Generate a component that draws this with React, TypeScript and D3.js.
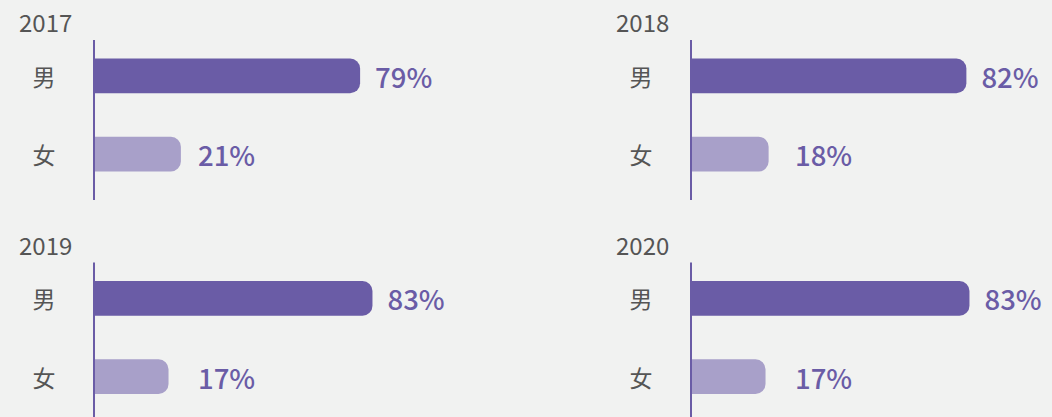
import React from 'react'
import * as d3 from 'd3'

// Gender split per year (%)
const years = ['2017', '2018', '2019', '2020']
const categories = ['男', '女']
const maleShare = [79, 82, 83, 83]
const femaleShare = [21, 18, 17, 17]

const width = 1052
const height = 417
const colStep = 597
const rowStep = 222.5
const axisX = 94
const font = '"Noto Sans CJK SC", "Noto Sans", sans-serif'
const dark = '#6a5ca6'
const light = '#a8a0c9'
const textGray = '#555555'

const x = d3.scaleLinear().domain([0, 100]).range([22, 331])
const y = d3.scaleBand<string>()
    .domain(categories)
    .range([35, 195])
    .paddingInner(0.557)
    .paddingOuter(0.3)
const color = d3.scaleOrdinal<string, string>().domain(categories).range([dark, light])

// bar with the right-hand corners rounded
const barPath = (x0: number, y0: number, w: number, h: number, r: number) => {
    const p = d3.path()
    p.moveTo(x0, y0)
    p.lineTo(x0 + w - r, y0)
    p.arcTo(x0 + w, y0, x0 + w, y0 + r, r)
    p.lineTo(x0 + w, y0 + h - r)
    p.arcTo(x0 + w, y0 + h, x0 + w - r, y0 + h, r)
    p.lineTo(x0, y0 + h)
    p.closePath()
    return p.toString()
}

const Panel: React.FC<{ year: string; values: number[]; tx: number; ty: number }> = ({ year, values, tx, ty }) => {
    const bw = y.bandwidth()
    return (
        <g transform={`translate(${tx},${ty})`}>
            <text x={19} y={32} fontSize={24} fill={textGray} fontFamily={font}>{year}</text>
            {categories.map((c, i) => {
                const yc = (y(c) ?? 0)
                const len = x(values[i])
                const labelX = axisX + Math.max(len + 15, 104)
                return (
                    <g key={c}>
                        <text x={44} y={yc + bw / 2} textAnchor="middle" dominantBaseline="central"
                            fontSize={23} fill={textGray} fontFamily={font}>{c}</text>
                        <path d={barPath(axisX, yc, len, bw, 10)} fill={color(c)} />
                        <text x={labelX} y={yc + bw / 2} dominantBaseline="central"
                            fontSize={27.5} fontWeight={500} fill={dark} fontFamily={font}>{values[i]}%</text>
                    </g>
                )
            })}
            <line x1={axisX} x2={axisX} y1={40} y2={200} stroke={dark} strokeWidth={2} />
        </g>
    )
}

export default function App() {
    return (
        <>
            <style>{`body{margin:0;background:#f1f2f1}`}</style>
            <svg width={width} height={height} style={{ display: 'block', background: '#f1f2f1' }}>
                {years.map((yr, i) => (
                    <Panel key={yr} year={yr} values={[maleShare[i], femaleShare[i]]}
                        tx={(i % 2) * colStep} ty={Math.floor(i / 2) * rowStep} />
                ))}
            </svg>
        </>
    )
}
